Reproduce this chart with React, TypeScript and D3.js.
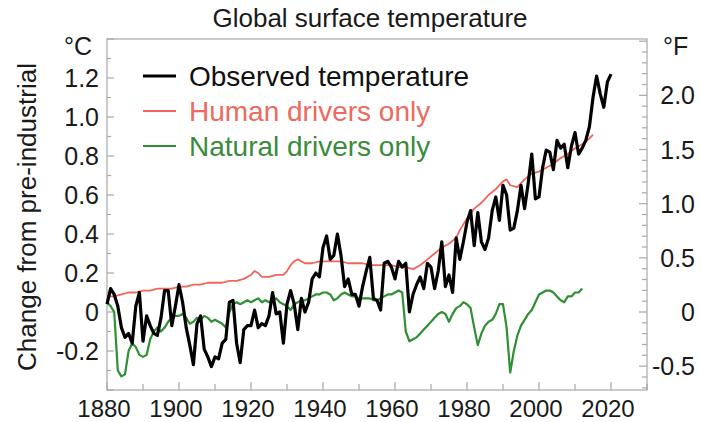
import React from "react";
import * as d3 from "d3";

// ---------- data ----------
const observedStartYear = 1880;
const observed = [
  0.04, 0.12, 0.09, 0.03, -0.08, -0.13, -0.11, -0.16, 0.03, 0.1,
  -0.15, -0.02, -0.07, -0.11, -0.12, -0.03, 0.11, 0.11, -0.07, 0.03,
  0.14, 0.05, -0.08, -0.17, -0.27, -0.06, -0.02, -0.19, -0.23, -0.28,
  -0.23, -0.24, -0.16, -0.14, 0.05, 0.06, -0.16, -0.26, -0.09, -0.07,
  -0.07, 0.01, -0.08, -0.06, -0.07, -0.02, 0.1, -0.01, 0.0, -0.16,
  0.04, 0.11, 0.04, -0.09, 0.07, 0.0, 0.05, 0.17, 0.2, 0.18,
  0.33, 0.39, 0.27, 0.29, 0.4, 0.29, 0.13, 0.17, 0.09, 0.09,
  0.03, 0.13, 0.21, 0.28, 0.07, 0.06, 0.01, 0.25, 0.26, 0.23,
  0.17, 0.26, 0.23, 0.25, 0.0, 0.09, 0.14, 0.18, 0.12, 0.25,
  0.23, 0.12, 0.21, 0.36, 0.13, 0.19, 0.1, 0.38, 0.27, 0.36,
  0.46, 0.52, 0.34, 0.51, 0.36, 0.32, 0.38, 0.52, 0.59, 0.47,
  0.65, 0.6, 0.42, 0.43, 0.52, 0.65, 0.53, 0.66, 0.81, 0.58,
  0.59, 0.74, 0.83, 0.82, 0.73, 0.88, 0.84, 0.86, 0.74, 0.85,
  0.92, 0.81, 0.84, 0.88, 0.95, 1.1, 1.21, 1.12, 1.05, 1.18,
  1.22,
];

const humanYears = [
  1880, 1882, 1884, 1886, 1888, 1890, 1892, 1894, 1896, 1898, 1900, 1902, 1904,
  1906, 1908, 1910, 1912, 1914, 1916, 1918, 1920, 1921, 1922, 1923, 1925, 1927,
  1929, 1930, 1931, 1932, 1933, 1935, 1937, 1939, 1941, 1943, 1945, 1947, 1949,
  1951, 1953, 1955, 1957, 1959, 1961, 1963, 1965, 1967, 1969, 1971, 1973, 1975,
  1977, 1978, 1980, 1982, 1984, 1986, 1988, 1990, 1991, 1992, 1994, 1996, 1998,
  2000, 2002, 2004, 2006, 2008, 2010, 2012, 2014, 2015,
];
const humanValues = [
  0.08, 0.08, 0.09, 0.1, 0.1, 0.11, 0.11, 0.12, 0.12, 0.12, 0.13, 0.13, 0.14,
  0.14, 0.15, 0.15, 0.15, 0.16, 0.16, 0.17, 0.19, 0.21, 0.2, 0.18, 0.18, 0.19,
  0.19, 0.21, 0.24, 0.26, 0.27, 0.25, 0.25, 0.26, 0.26, 0.26, 0.26, 0.25, 0.25,
  0.25, 0.24, 0.24, 0.24, 0.24, 0.23, 0.23, 0.22, 0.24, 0.27, 0.3, 0.33, 0.35,
  0.38, 0.42, 0.48, 0.53, 0.56, 0.6, 0.63, 0.67, 0.68, 0.65, 0.64, 0.68, 0.71,
  0.72, 0.74, 0.76, 0.79, 0.81, 0.84, 0.86, 0.89, 0.91,
];

const naturalStartYear = 1880;
const naturalValues = [
  0.05, 0.03, 0.0, -0.3, -0.33, -0.32, -0.2, -0.16, -0.18, -0.22,
  -0.23, -0.22, -0.14, -0.1, -0.08, -0.1, -0.08, -0.05, -0.03, -0.02,
  -0.02, -0.01, -0.03, -0.06, -0.05, -0.03, -0.04, -0.02, -0.03, -0.05,
  -0.04, -0.05, -0.06, -0.08, 0.0, 0.04, 0.05, 0.04, 0.05, 0.06,
  0.05, 0.06, 0.07, 0.05, 0.06, 0.05, 0.06, 0.07, 0.05, 0.04,
  0.03, 0.01, 0.04, 0.05, 0.06, 0.06, 0.07, 0.08, 0.09, 0.09,
  0.1, 0.1, 0.09, 0.06, 0.07, 0.09, 0.1, 0.09, 0.08, 0.08,
  0.07, 0.07, 0.07, 0.07, 0.06, 0.06, 0.07, 0.08, 0.09, 0.09,
  0.1, 0.11, 0.1, -0.1, -0.15, -0.14, -0.13, -0.11, -0.09, -0.07,
  -0.05, -0.03, -0.01, 0.0, -0.01, -0.05, -0.01, 0.02, 0.03, 0.05,
  0.04, 0.02, -0.08, -0.17, -0.11, -0.07, -0.05, -0.04, -0.01, 0.04,
  0.04, -0.08, -0.31, -0.2, -0.12, -0.07, -0.04, -0.01, 0.01, 0.05,
  0.09, 0.1, 0.11, 0.11, 0.1, 0.08, 0.06, 0.05, 0.08, 0.08,
  0.1, 0.1, 0.12,
];

const xTickYears = [1880, 1900, 1920, 1940, 1960, 1980, 2000, 2020];
const leftTickValues = [-0.2, 0, 0.2, 0.4, 0.6, 0.8, 1.0, 1.2];
const leftTickLabels = ["-0.2", "0", "0.2", "0.4", "0.6", "0.8", "1.0", "1.2"];
const rightTickValues = [-0.5, 0, 0.5, 1.0, 1.5, 2.0];
const rightTickLabels = ["-0.5", "0", "0.5", "1.0", "1.5", "2.0"];

const legendItems = [
  { label: "Observed temperature", color: "#000000", text: "#111111", width: 3 },
  { label: "Human drivers only", color: "#f2645a", text: "#ee6a5e", width: 2 },
  { label: "Natural drivers only", color: "#2f8f34", text: "#3a8c3c", width: 2.2 },
];

// ---------- layout ----------
const W = 701;
const H = 422;
const L = 107;
const R = 647;
const T = 39;
const B = 390;
const FONT = "'Liberation Sans', Arial, sans-serif";

export default function App() {
  const x = d3.scaleLinear().domain([1880, 2030]).range([L, R]);
  const y = d3.scaleLinear().domain([-0.4, 1.4]).range([B, T]);
  const yF = (f: number) => y(f / 1.8);

  const line = d3
    .line<[number, number]>()
    .x((d) => x(d[0]))
    .y((d) => y(d[1]))
    .curve(d3.curveLinear);

  const obsPts: [number, number][] = observed.map((v, i) => [observedStartYear + i, v]);
  const humPts: [number, number][] = humanValues.map((v, i) => [humanYears[i], v]);
  const natPts: [number, number][] = naturalValues.map((v, i) => [naturalStartYear + i, v]);

  const leftMinor = d3.range(-4, 15).map((i) => i / 10);
  const rightMinor = d3.range(-7, 26).map((i) => i / 10);
  const bottomTicks = d3.range(1880, 2031, 10);

  const axisColor = "#a8a8a8";
  const textColor = "#1a1a1a";

  return (
    <svg
      width={W}
      height={H}
      style={{ position: "absolute", left: 0, top: 0, background: "#fff" }}
      fontFamily={FONT}
    >
      <rect x={0} y={0} width={W} height={H} fill="#fff" />
      {/* title */}
      <text x={370} y={27} textAnchor="middle" fontSize={26} fill={textColor}>
        Global surface temperature
      </text>
      {/* units */}
      <text x={78} y={55} textAnchor="middle" fontSize={25} fill={textColor}>
        °C
      </text>
      <text x={663} y={55} textAnchor="start" fontSize={25} fill={textColor}>
        °F
      </text>
      {/* y axis title */}
      <text
        transform={`translate(36,217) rotate(-90)`}
        textAnchor="middle"
        fontSize={26}
        fill={textColor}
      >
        Change from pre-industrial
      </text>

      {/* frame */}
      <rect x={L} y={T} width={R - L} height={B - T} fill="none" stroke={axisColor} strokeWidth={1.2} />

      {/* left ticks */}
      {leftMinor.map((v) => {
        const major = Math.abs(Math.round(v * 10) % 2) === 0;
        return (
          <line
            key={"lm" + v}
            x1={L}
            x2={L + (major ? 7 : 4)}
            y1={y(v)}
            y2={y(v)}
            stroke={axisColor}
            strokeWidth={1.2}
          />
        );
      })}
      {leftTickValues.map((v, i) => (
        <text key={"lt" + v} x={99} y={y(v) + 9} textAnchor="end" fontSize={25} fill={textColor}>
          {leftTickLabels[i]}
        </text>
      ))}

      {/* right ticks */}
      {rightMinor.map((f) => {
        const major = Math.abs(Math.round(f * 10) % 5) === 0;
        return (
          <line
            key={"rm" + f}
            x1={R}
            x2={R - (major ? 8 : 5)}
            y1={yF(f)}
            y2={yF(f)}
            stroke={axisColor}
            strokeWidth={1.2}
          />
        );
      })}
      {rightTickValues.map((f, i) => (
        <text key={"rt" + f} x={695} y={yF(f) + 9} textAnchor="end" fontSize={25} fill={textColor}>
          {rightTickLabels[i]}
        </text>
      ))}

      {/* bottom ticks */}
      {bottomTicks.map((yr) => (
        <line
          key={"bt" + yr}
          x1={x(yr)}
          x2={x(yr)}
          y1={B}
          y2={B - (yr % 20 === 0 ? 8 : 6)}
          stroke={axisColor}
          strokeWidth={1.2}
        />
      ))}
      {xTickYears.map((yr) => (
        <text key={"xl" + yr} x={x(yr) - 3} y={417} textAnchor="middle" fontSize={24} fill={textColor}>
          {yr}
        </text>
      ))}

      {/* series */}
      <path d={line(natPts) || ""} fill="none" stroke={legendItems[2].color} strokeWidth={2.2} strokeLinejoin="round" />
      <path d={line(humPts) || ""} fill="none" stroke={legendItems[1].color} strokeWidth={1.8} strokeLinejoin="round" />
      <path d={line(obsPts) || ""} fill="none" stroke={legendItems[0].color} strokeWidth={3.2} strokeLinejoin="round" />

      {/* legend */}
      {legendItems.map((it, i) => {
        const cy = 76 + i * 35;
        return (
          <g key={it.label}>
            <line x1={143} x2={176} y1={cy} y2={cy} stroke={it.color} strokeWidth={it.width} />
            <text x={189} y={cy + 10} fontSize={28} fill={it.text}>
              {it.label}
            </text>
          </g>
        );
      })}
    </svg>
  );
}
